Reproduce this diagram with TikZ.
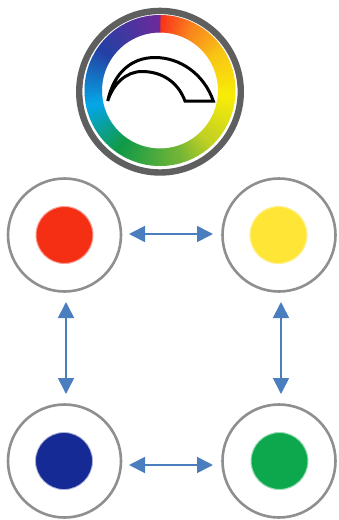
\documentclass[tikz,border=0pt]{standalone}
\usetikzlibrary{arrows.meta}
\definecolor{ringgray}{HTML}{5F5F60}
\definecolor{discgray}{HTML}{8E9090}
\definecolor{arrowblue}{HTML}{4A7EBE}
\definecolor{cred}{HTML}{F52F14}
\definecolor{cyellow}{HTML}{FFE535}
\definecolor{cblue}{HTML}{152A94}
\definecolor{cgreen}{HTML}{0DA84E}
\definecolor{c0}{HTML}{F9321A}\definecolor{c1}{HTML}{F98A1C}\definecolor{c2}{HTML}{F8C814}\definecolor{c3}{HTML}{F8EC07}
\definecolor{c4}{HTML}{C4D222}\definecolor{c5}{HTML}{6EB436}\definecolor{c6}{HTML}{109A48}\definecolor{c7}{HTML}{05A5E6}
\definecolor{c8}{HTML}{2440A4}\definecolor{c9}{HTML}{6C2A9A}
\tikzset{
  disc/.style={circle,draw=discgray,line width=2.6pt,fill=white,minimum size=113pt,inner sep=0pt,outer sep=0pt},
  dot/.style={circle,minimum size=57pt,inner sep=0pt,outer sep=0pt},
  link/.style={arrowblue,line width=1.7pt,{Triangle[length=16pt,width=16pt]}-{Triangle[length=16pt,width=16pt]}},
}
\begin{document}
\begin{tikzpicture}[x=1pt,y=-1pt]
\useasboundingbox (0,0) rectangle (339,520);
% logo
\node[circle,draw=ringgray,line width=6.4pt,minimum size=161.6pt,inner sep=0pt,fill=white] (logo) at (160,91.7) {};
\foreach \a/\b/\ca/\cb in {0/30/c0/c1,30/60/c1/c2,60/95/c2/c3,95/135/c3/c4,135/165/c4/c5,165/215/c5/c6,215/258/c6/c7,258/305/c7/c8,305/360/c8/c9}{
  \pgfmathsetmacro{\steps}{int((\b-\a)/2)}
  \foreach \i in {1,...,\steps}{
    \pgfmathsetmacro{\t}{100*(\i-1)/(\steps-1)}
    \pgfmathsetmacro{\s}{\a+(\i-1)*(\b-\a)/\steps}
    \pgfmathsetmacro{\e}{\a+\i*(\b-\a)/\steps+0.4}
    \colorlet{segc}{\cb!\t!\ca}
    \fill[segc] ({160+75.5*sin(\s)},{90.5-75.5*cos(\s)})
      -- ({160+75.5*sin(\e)},{90.5-75.5*cos(\e)})
      -- ({160+58*sin(\e)},{90.5-58*cos(\e)})
      -- ({160+58*sin(\s)},{90.5-58*cos(\s)}) -- cycle;
  }
}
% arch
\draw[black,line width=3pt,line join=miter]
  (107.7,101) .. controls (114,72) and (132,57.5) .. (155,57.5)
  .. controls (180,57.5) and (204,74) .. (213.3,101) -- (185,101)
  .. controls (178,82) and (162,71.5) .. (142,71.5)
  .. controls (126,71.5) and (113,84) .. (107.7,101) -- cycle;
% discs
\node[disc] (dr) at (64.5,235) {};
\node[disc] (dy) at (279,235) {};
\node[disc] (db) at (64.5,461) {};
\node[disc] (dg) at (279,461) {};
\node[dot,fill=cred,draw=cred!45,line width=1pt] (red) at (64.5,235) {};
\node[dot,fill=cyellow,draw=cyellow!55,line width=1.2pt] (yel) at (278.5,235) {};
\node[dot,fill=cblue,draw=cblue!35,line width=.8pt] (blu) at (64,461) {};
\node[dot,fill=cgreen,draw=cgreen!40,line width=1pt] (gre) at (279.5,461) {};
\draw[link,shorten <=8pt,shorten >=9.5pt] ([yshift=1pt]dr.east) -- ([yshift=1pt]dy.west);
\draw[link,shorten <=8pt,shorten >=9.5pt] ([yshift=-4pt]db.east) -- ([yshift=-4pt]dg.west);
\draw[link,shorten <=10.5pt,shorten >=10.5pt] ([xshift=1.5pt]dr.south) -- ([xshift=1.5pt]db.north);
\draw[link,shorten <=10.5pt,shorten >=10.5pt] ([xshift=2pt]dy.south) -- ([xshift=2pt]dg.north);
\end{tikzpicture}
\end{document}
